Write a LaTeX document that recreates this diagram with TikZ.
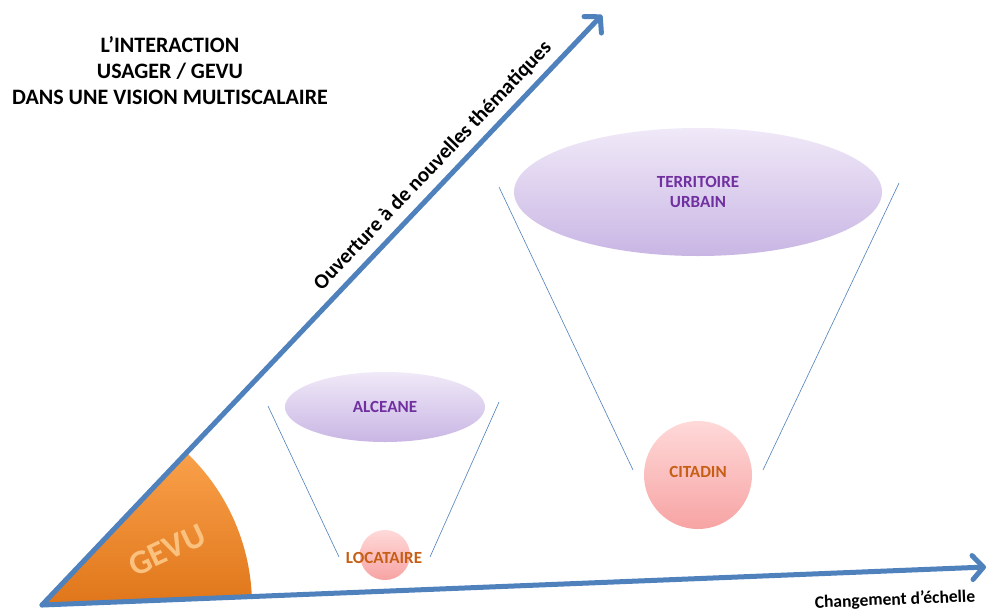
\documentclass[tikz,border=0pt]{standalone}
\usepackage{fontspec}
\setmainfont{Carlito}
\usetikzlibrary{arrows.meta,shapes.geometric,shadows}
\definecolor{axisblue}{HTML}{4F81BD}
\definecolor{lavtop}{HTML}{F0E9F8}
\definecolor{lavbot}{HTML}{C9B6E4}
\definecolor{pinktop}{HTML}{FFD9D9}
\definecolor{pinkbot}{HTML}{F7A3A3}
\definecolor{purpletext}{HTML}{7030A0}
\definecolor{browntext}{HTML}{C65F15}
\definecolor{orangeA}{HTML}{F9A04A}
\definecolor{orangeB}{HTML}{E0761A}
\definecolor{gevutext}{HTML}{FAC27E}
\tikzset{
  axis/.style={draw=axisblue, line width=5pt, line cap=round,
    -{Straight Barb[length=11pt,width=24pt,line cap=round,line join=round]}},
  funnel/.style={draw=axisblue, line width=0.6pt},
  bigoval/.style={ellipse, top color=lavtop, bottom color=lavbot, draw=none,
    inner sep=0pt, align=center, font=\bfseries\fontsize{17}{20}\selectfont,
    text=purpletext},
  disc/.style={circle, top color=pinktop, bottom color=pinkbot, draw=none,
    inner sep=0pt},
  disclabel/.style={font=\bfseries\fontsize{17}{20}\selectfont, text=browntext},
  axislabel/.style={font=\bfseries\fontsize{21}{24}\selectfont, text=black}
}
\begin{document}
\begin{tikzpicture}[x=1pt,y=-1pt]
\useasboundingbox[fill=white] (0,0) rectangle (988,611);
% origin and axis ends
\coordinate (O) at (42,605);
\coordinate (Xend) at (986,567);
\coordinate (Yend) at (602,15);
% GEVU wedge
\path[left color=orangeA, right color=orangeB, shading angle=0]
  (O) -- ++(-2.3:210) arc[start angle=-2.3, end angle=-46.4, radius=210] -- cycle;
\node[rotate=25, font=\bfseries\fontsize{34}{36}\selectfont, text=gevutext]
  (gevu) at (167,550) {GEVU};
% axes
\draw[axis] (O) -- (Xend);
\draw[axis] (O) -- (Yend);
% axis labels
\node[axislabel, rotate=46.4] (ylab) at (433,166) {Ouverture à de nouvelles thématiques};
\node[axislabel, rotate=2.3, font=\bfseries\fontsize{17.5}{20}\selectfont] (xlab) at (895,600) {Changement d’échelle};
% title
\node[align=center, font=\bfseries\fontsize{22}{26}\selectfont] (title) at (170,71)
  {L’INTERACTION\\USAGER / GEVU\\DANS UNE VISION MULTISCALAIRE};
% small funnel
\coordinate (a1) at (268,406);
\coordinate (a2) at (339,557);
\coordinate (a3) at (499,402);
\coordinate (a4) at (430,557);
\draw[funnel] (a1) -- (a2);
\draw[funnel] (a3) -- (a4);
\node[bigoval, minimum width=200pt, minimum height=70pt] (alceane) at (385,407) {ALCEANE};
\node[disc, minimum size=50pt] (locdisc) at (385,555) {};
\node[disclabel] (locataire) at (384,558) {LOCATAIRE};
% big funnel
\coordinate (b1) at (499,187);
\coordinate (b2) at (633,470);
\coordinate (b3) at (899,183);
\coordinate (b4) at (763,470);
\draw[funnel] (b1) -- (b2);
\draw[funnel] (b3) -- (b4);
\node[bigoval, minimum width=368pt, minimum height=128pt] (territoire) at (698,192) {TERRITOIRE\\URBAIN};
\node[disc, minimum size=108pt] (citadindisc) at (698,475) {};
\node[disclabel] (citadin) at (698,472) {CITADIN};
\end{tikzpicture}
\end{document}
